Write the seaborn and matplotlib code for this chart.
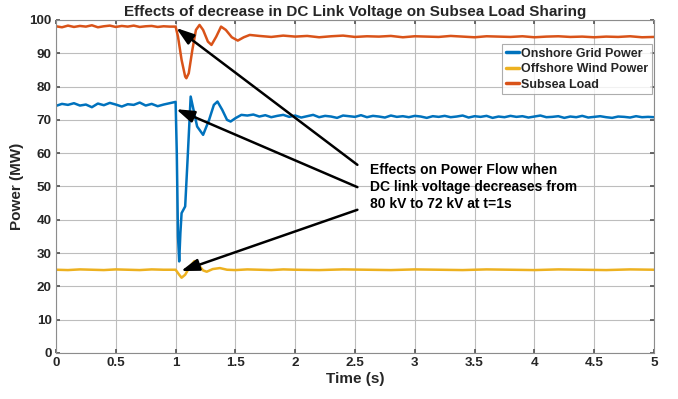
import matplotlib
matplotlib.use("Agg")
import matplotlib.pyplot as plt
import seaborn as sns
import pandas as pd

# ---------------- data ----------------
onshore_t = [0.00, 0.05, 0.10, 0.15, 0.20, 0.25, 0.30, 0.35, 0.40, 0.45, 0.50,
             0.55, 0.60, 0.65, 0.70, 0.75, 0.80, 0.85, 0.90, 0.95, 1.00,
             1.01, 1.02, 1.03, 1.04, 1.05, 1.08, 1.10, 1.126, 1.15, 1.18, 1.23,
             1.28, 1.32, 1.35, 1.39, 1.43, 1.46, 1.50, 1.55, 1.60,
             1.65, 1.70, 1.75, 1.80, 1.85, 1.90, 1.95, 2.00, 2.05, 2.10, 2.15,
             2.20, 2.25, 2.30, 2.35, 2.40, 2.45, 2.50, 2.55, 2.60, 2.65, 2.70,
             2.75, 2.80, 2.85, 2.90, 2.95, 3.00, 3.05, 3.10, 3.15, 3.20, 3.25,
             3.30, 3.35, 3.40, 3.45, 3.50, 3.55, 3.60, 3.65, 3.70, 3.75, 3.80,
             3.85, 3.90, 3.95, 4.00, 4.05, 4.10, 4.15, 4.20, 4.25, 4.30, 4.35,
             4.40, 4.45, 4.50, 4.55, 4.60, 4.65, 4.70, 4.75, 4.80, 4.85, 4.90,
             4.95, 5.00]
onshore_p = [74.2, 74.8, 74.5, 75.0, 74.3, 74.6, 73.8, 74.9, 74.4, 75.1, 74.6,
             74.0, 74.7, 74.5, 75.2, 74.3, 74.8, 74.1, 74.6, 75.0, 75.4,
             60.0, 35.0, 27.5, 36.0, 42.0, 44.0, 58.0, 77.0, 73.0, 68.0, 65.5,
             70.0, 74.5, 75.5, 73.0, 70.0, 69.5, 70.5, 71.5, 71.3,
             71.6, 71.0, 71.4, 70.8, 71.2, 71.5, 70.9, 71.3, 70.7, 71.1, 71.5,
             70.8, 71.2, 71.0, 70.6, 71.3, 71.1, 70.9, 71.4, 70.8, 71.2, 71.0,
             70.7, 71.3, 70.9, 71.1, 70.8, 71.2, 71.0, 70.6, 71.1, 70.9, 71.2,
             70.8, 71.0, 71.3, 70.7, 71.1, 70.9, 71.2, 70.6, 71.0, 70.8, 71.2,
             70.9, 71.1, 70.7, 71.0, 71.3, 70.8, 70.9, 71.1, 70.6, 71.0, 70.8,
             71.2, 70.7, 70.9, 71.1, 70.8, 70.6, 71.0, 70.9, 70.7, 71.1, 70.8,
             70.9, 70.8]

offshore_t = [0.00, 0.10, 0.20, 0.30, 0.40, 0.50, 0.60, 0.70, 0.80, 0.90, 1.00,
              1.03, 1.05, 1.08, 1.12, 1.157, 1.19, 1.23, 1.26, 1.31, 1.37, 1.43,
              1.50, 1.60, 1.70, 1.80, 1.90, 2.00, 2.20, 2.40, 2.60, 2.80, 3.00,
              3.20, 3.40, 3.60, 3.80, 4.00, 4.20, 4.40, 4.60, 4.80, 5.00]
offshore_p = [25.0, 24.9, 25.1, 25.0, 24.9, 25.1, 25.0, 24.9, 25.1, 25.0, 25.0,
              23.5, 22.6, 23.5, 26.0, 27.6, 26.5, 24.8, 24.4, 25.2, 25.5, 25.0,
              24.9, 25.1, 25.0, 24.9, 25.1, 25.0, 24.9, 25.1, 25.0, 24.9, 25.1,
              25.0, 24.9, 25.1, 25.0, 24.9, 25.1, 25.0, 24.9, 25.1, 25.0]

subsea_t = [0.00, 0.05, 0.10, 0.15, 0.20, 0.25, 0.30, 0.35, 0.40, 0.45, 0.50,
            0.55, 0.60, 0.65, 0.70, 0.75, 0.80, 0.85, 0.90, 0.95, 1.00,
            1.02, 1.05, 1.08, 1.09, 1.11, 1.14, 1.17, 1.20, 1.23, 1.27, 1.30,
            1.34, 1.38, 1.42, 1.47, 1.52, 1.57, 1.62,
            1.70, 1.80, 1.90, 2.00, 2.10, 2.20, 2.30, 2.40, 2.50, 2.60, 2.70,
            2.80, 2.90, 3.00, 3.10, 3.20, 3.30, 3.40, 3.50, 3.60, 3.70, 3.80,
            3.90, 4.00, 4.10, 4.20, 4.30, 4.40, 4.50, 4.60, 4.70, 4.80, 4.90,
            5.00]
subsea_p = [98.1, 97.8, 98.3, 97.9, 98.2, 98.0, 98.4, 97.8, 98.1, 98.3, 97.9,
            98.2, 98.0, 98.3, 97.9, 98.1, 98.2, 97.9, 98.1, 98.0, 98.0,
            95.0, 88.0, 83.0, 82.5, 84.0, 91.0, 97.0, 98.5, 97.0, 93.5, 92.5,
            95.0, 98.0, 97.0, 94.8, 93.8, 94.8, 95.5,
            95.2, 94.9, 95.3, 95.0, 95.2, 94.8, 95.1, 95.3, 94.9, 95.1, 95.0,
            95.2, 94.8, 95.1, 95.0, 94.9, 95.2, 95.0, 94.8, 95.1, 95.0, 94.9,
            95.1, 94.8, 95.0, 95.1, 94.9, 95.0, 94.8, 95.0, 94.9, 95.1, 94.8,
            94.9]

series_names = ["Onshore Grid Power", "Offshore Wind Power", "Subsea Load"]
series_colors = ["#0072BD", "#EDB120", "#D95319"]

x_ticks = [0, 0.5, 1, 1.5, 2, 2.5, 3, 3.5, 4, 4.5, 5]
x_tick_labels = ["0", "0.5", "1", "1.5", "2", "2.5", "3", "3.5", "4", "4.5", "5"]
y_ticks = [0, 10, 20, 30, 40, 50, 60, 70, 80, 90, 100]

title_text = "Effects of decrease in DC Link Voltage on Subsea Load Sharing"
annot_text = "Effects on Power Flow when\nDC link voltage decreases from\n80 kV to 72 kV at t=1s"
# arrow tail (text side) and head (curve point) in data coords
arrow_tails = [(2.52, 56.5), (2.52, 49.8), (2.52, 43.0)]
arrow_heads = [(1.005, 97.6), (1.005, 73.2), (1.045, 24.6)]

# ---------------- plotting ----------------
sns.set_theme(style="white")
plt.rcParams["font.family"] = ["Liberation Sans", "DejaVu Sans"]
plt.rcParams["font.weight"] = "bold"

df = pd.concat([
    pd.DataFrame({"Time": onshore_t, "Power": onshore_p, "Series": series_names[0]}),
    pd.DataFrame({"Time": offshore_t, "Power": offshore_p, "Series": series_names[1]}),
    pd.DataFrame({"Time": subsea_t, "Power": subsea_p, "Series": series_names[2]}),
], ignore_index=True)

fig = plt.figure(figsize=(6.78, 3.99), dpi=100)
ax = fig.add_axes([0.0826, 0.1153, 0.882, 0.8347])

sns.lineplot(data=df, x="Time", y="Power", hue="Series", hue_order=series_names,
             palette=series_colors, linewidth=1.8, estimator=None, sort=False, ax=ax)

ax.set_xlim(0, 5)
ax.set_ylim(0, 100)
ax.set_xticks(x_ticks)
ax.set_xticklabels(x_tick_labels)
ax.set_yticks(y_ticks)
ax.grid(True, color="#bdbdbd", linewidth=0.8)
ax.set_axisbelow(True)
for s in ax.spines.values():
    s.set_color("#8c8c8c")
    s.set_linewidth(0.8)
ax.tick_params(axis="both", which="both", direction="in", length=3, color="#555555",
               labelsize=9.7, top=True, right=True, bottom=True, left=True, pad=3)
for lbl in ax.get_xticklabels() + ax.get_yticklabels():
    lbl.set_fontweight("bold")

ax.set_xlabel("Time (s)", fontsize=11, fontweight="bold", labelpad=2)
ax.set_ylabel("Power (MW)", fontsize=11, fontweight="bold", labelpad=4)
ax.set_title(title_text, fontsize=11, fontweight="bold", pad=3)

leg = ax.legend(loc="upper right", bbox_to_anchor=(0.9967, 0.928), borderaxespad=0,
                fontsize=9, handlelength=1.0, handletextpad=0.2, borderpad=0.3,
                labelspacing=0.28, frameon=True, fancybox=False)
leg.get_frame().set_edgecolor("#999999")
leg.get_frame().set_linewidth(0.8)
for t in leg.get_texts():
    t.set_fontweight("bold")
for l in leg.get_lines():
    l.set_linewidth(2.5)

for tail, head in zip(arrow_tails, arrow_heads):
    ax.annotate("", xy=head, xytext=tail,
                arrowprops=dict(arrowstyle="-|>,head_length=0.9,head_width=0.3",
                                color="black", lw=1.8, shrinkA=0, shrinkB=0))

ax.text(2.625, 57.0, annot_text, fontsize=10, fontweight="bold", va="top",
        ha="left", linespacing=1.25, color="black")

fig.savefig("out.png", dpi=100)
